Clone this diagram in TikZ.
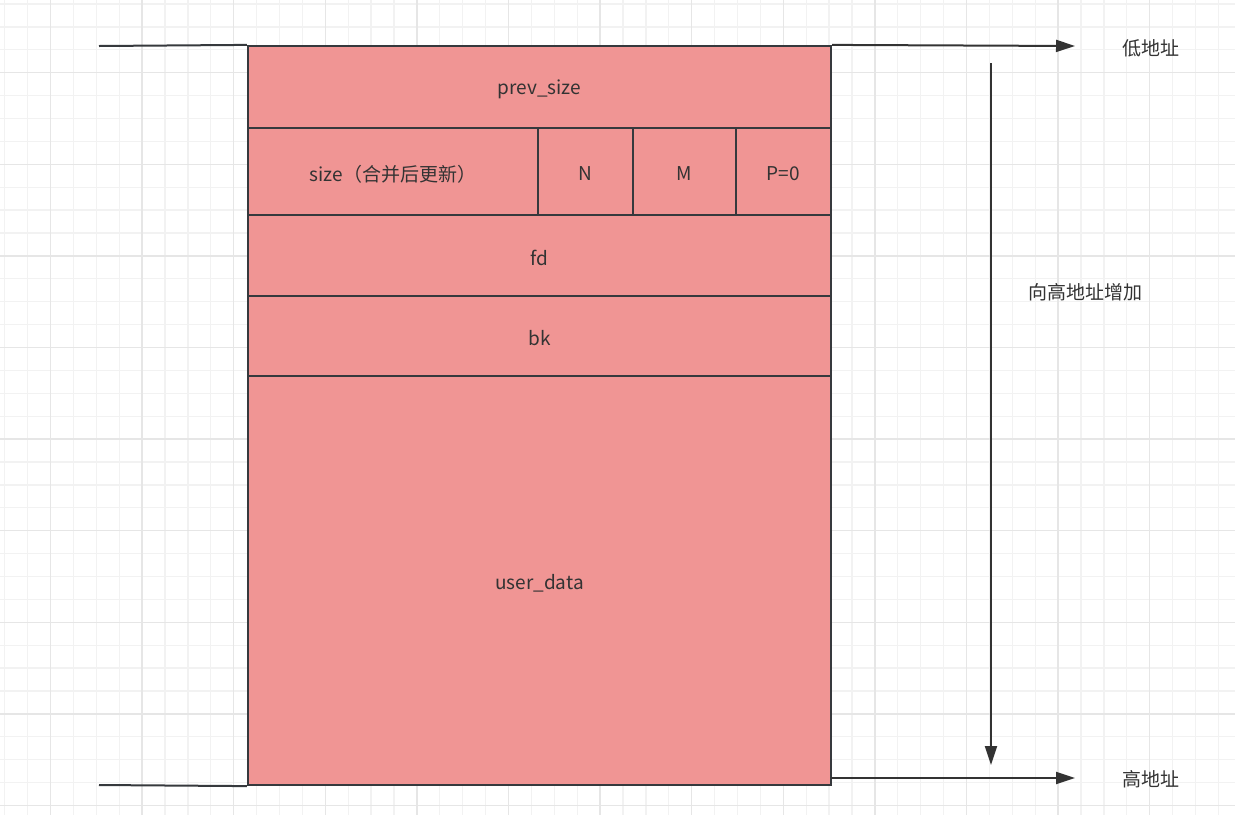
\documentclass[tikz,border=0pt]{standalone}
\usepackage{fontspec}
\setmainfont{Noto Sans CJK SC}
\usetikzlibrary{arrows.meta,calc}
\definecolor{cellfill}{HTML}{F09594}
\definecolor{cellline}{HTML}{36393D}
\definecolor{txt}{HTML}{333333}
\definecolor{gridminor}{HTML}{F2F2F2}
\definecolor{gridmajor}{HTML}{E6E6E6}
\newcommand{\lowertxt}[1]{\raisebox{-2.5pt}[\height][\depth]{#1}}
\tikzset{
  cell/.style={draw=cellline, line width=2.2pt, fill=cellfill, rectangle, inner sep=0pt,
    text=txt, font=\fontsize{19}{23}\selectfont},
  lbl/.style={text=txt, font=\fontsize{19}{23}\selectfont, inner sep=0pt},
  wire/.style={draw=cellline, line width=2pt},
  arr/.style={draw=txt, line width=2pt, -{Triangle[length=19pt,width=12pt]}},
}
\begin{document}
\begin{tikzpicture}[x=1pt,y=-1pt]
\useasboundingbox (0,0) rectangle (1235,815);
\fill[white] (0,0) rectangle (1235,815);
% grid
\foreach \i in {0,...,53} {
  \pgfmathsetmacro{\gx}{4.7+22.9*\i}
  \draw[gridminor, line width=1.3pt] (\gx,0) -- (\gx,815);
}
\foreach \i in {0,...,35} {
  \pgfmathsetmacro{\gy}{4.0+22.9*\i}
  \draw[gridminor, line width=1.3pt] (0,\gy) -- (1235,\gy);
}
\foreach \i in {0,...,13} {
  \pgfmathsetmacro{\gx}{50.5+91.6*\i}
  \draw[gridmajor, line width=1.3pt] (\gx,0) -- (\gx,815);
}
\foreach \i in {0,...,9} {
  \pgfmathsetmacro{\gy}{-18.9+91.6*\i}
  \draw[gridmajor, line width=1.3pt] (0,\gy) -- (1235,\gy);
}
% cells
\node[cell, minimum width=583pt, minimum height=82pt] (prev) at (539.5,87) {\lowertxt{prev\_size}};
\node[cell, minimum width=290pt, minimum height=87pt] (size) at (393,171.5) {\lowertxt{size（合并后更新）}};
\node[cell, minimum width=95pt, minimum height=87pt] (n) at (585.5,171.5) {\lowertxt{N}};
\node[cell, minimum width=103pt, minimum height=87pt] (m) at (684.5,171.5) {\lowertxt{M}};
\node[cell, minimum width=95pt, minimum height=87pt] (p) at (783.5,171.5) {\lowertxt{P=0}};
\node[cell, minimum width=583pt, minimum height=81pt] (fd) at (539.5,255.5) {\lowertxt{fd}};
\node[cell, minimum width=583pt, minimum height=80pt] (bk) at (539.5,336) {\lowertxt{bk}};
\node[cell, minimum width=583pt, minimum height=409pt] (user) at (539.5,580.5) {\lowertxt{user\_data}};
% boundary lines
\coordinate (tl) at (99,46);
\coordinate (bl) at (99,785);
\coordinate (tr) at (1075,46);
\coordinate (bs) at (831,778);
\coordinate (br) at (1075,778);
\coordinate (vs) at (991,63);
\coordinate (ve) at (991,765);
\draw[wire] (tl) -- (prev.north west);
\draw[wire] (bl) -- (user.south west);
\draw[arr] (prev.north east) -- (tr);
\draw[arr] (bs) -- (br);
\draw[arr] (vs) -- (ve);
% labels
\node[lbl] (low) at (1151,48.5) {低地址};
\node[lbl] (high) at (1151,779.5) {高地址};
\node[lbl] (inc) at (1085,292.5) {向高地址增加};
\end{tikzpicture}
\end{document}
